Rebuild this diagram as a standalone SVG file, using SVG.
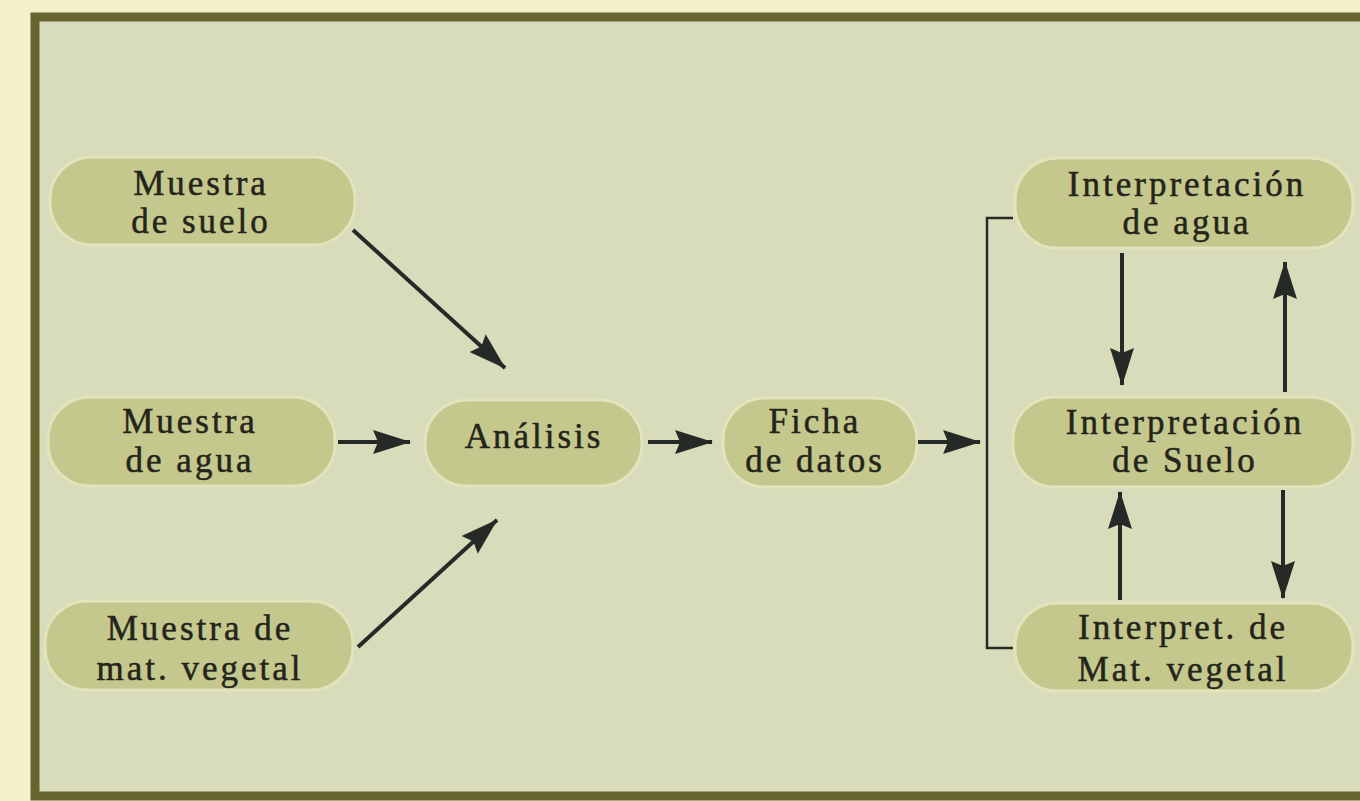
<svg xmlns="http://www.w3.org/2000/svg" width="1360" height="801" viewBox="0 0 1360 801">
<style>
.node rect{fill:#c5c88d;stroke:#e2e4bc;stroke-width:3}
.node text{font-family:"Liberation Serif","Times New Roman",serif;font-size:35px;letter-spacing:3px;fill:#24241a;stroke:#24241a;stroke-width:0.5;text-anchor:middle}
.conn line,.conn path{stroke:#262a26;stroke-width:4;fill:none}
.conn .br{stroke-width:2.5}
</style>
<defs>
<marker id="ah" markerUnits="userSpaceOnUse" markerWidth="40" markerHeight="32" viewBox="0 0 40 32" refX="37" refY="16" orient="auto">
<path d="M0,4 L38,16 L0,28 L5,16 z" fill="#262a26"/>
</marker>
</defs>
<rect x="0" y="0" width="1360" height="801" fill="#f3f1c9"/>
<rect x="35" y="17" width="1400" height="779" fill="#d9dcbb" stroke="#66652f" stroke-width="9"/>

<g id="n-suelo" class="node">
<rect x="50" y="157" width="305" height="88" rx="42"/>
<text x="201" y="195">Muestra</text>
<text x="201" y="233">de suelo</text>
</g>
<g id="n-agua" class="node">
<rect x="48" y="397" width="287" height="89" rx="42"/>
<text x="190" y="433">Muestra</text>
<text x="190" y="472">de agua</text>
</g>
<g id="n-vegetal" class="node">
<rect x="45" y="601" width="308" height="89" rx="42"/>
<text x="200" y="640">Muestra de</text>
<text x="200" y="680">mat. vegetal</text>
</g>
<g id="n-analisis" class="node">
<rect x="425" y="400" width="217" height="86" rx="42"/>
<text x="534" y="448">Análisis</text>
</g>
<g id="n-ficha" class="node">
<rect x="723" y="398" width="194" height="89" rx="42"/>
<text x="815" y="433">Ficha</text>
<text x="815" y="472">de datos</text>
</g>
<g id="n-int-agua" class="node">
<rect x="1015" y="158" width="338" height="90" rx="42"/>
<text x="1187" y="196">Interpretación</text>
<text x="1187" y="234">de agua</text>
</g>
<g id="n-int-suelo" class="node">
<rect x="1013" y="397" width="340" height="90" rx="42"/>
<text x="1185" y="434">Interpretación</text>
<text x="1185" y="472">de Suelo</text>
</g>
<g id="n-int-vegetal" class="node">
<rect x="1015" y="603" width="338" height="88" rx="42"/>
<text x="1183" y="639">Interpret. de</text>
<text x="1183" y="681">Mat. vegetal</text>
</g>

<g id="connectors" class="conn">
<line x1="353" y1="230" x2="505" y2="368" marker-end="url(#ah)"/>
<line x1="338" y1="442" x2="410" y2="442" marker-end="url(#ah)"/>
<line x1="358" y1="647" x2="497" y2="520" marker-end="url(#ah)"/>
<line x1="648" y1="442" x2="712" y2="442" marker-end="url(#ah)"/>
<line x1="918" y1="442" x2="980" y2="442" marker-end="url(#ah)"/>
<path class="br" d="M1013,218 H987 V648 H1013"/>
<line x1="1122" y1="253" x2="1122" y2="385" marker-end="url(#ah)"/>
<line x1="1285" y1="392" x2="1285" y2="262" marker-end="url(#ah)"/>
<line x1="1120" y1="600" x2="1120" y2="492" marker-end="url(#ah)"/>
<line x1="1283" y1="490" x2="1283" y2="598" marker-end="url(#ah)"/>
</g>
</svg>
